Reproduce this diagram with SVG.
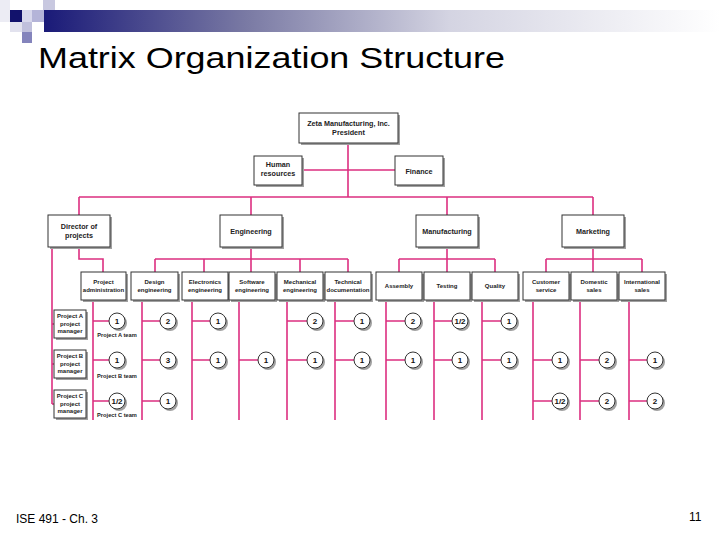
<svg xmlns="http://www.w3.org/2000/svg" width="720" height="540" viewBox="0 0 720 540">
<defs>
<linearGradient id="bar" x1="0" y1="0" x2="1" y2="0">
<stop offset="0" stop-color="#1a1a78"/>
<stop offset="0.3" stop-color="#7a7aa4"/>
<stop offset="0.6" stop-color="#d4d4e2"/>
<stop offset="1" stop-color="#ffffff"/>
</linearGradient>
</defs>
<style>
.ln{stroke:#dc2f80;stroke-width:1.6;fill:none}
.sh{fill:#a0a0a0}
.bx{fill:#fff;stroke:#333;stroke-width:1}
.t{font-family:"Liberation Sans",Arial,sans-serif;font-weight:bold;fill:#222;text-anchor:middle}
.t7{font-size:7.2px}
.t6{font-size:6px}
.t5{font-size:5.7px}
.num{font-family:"Liberation Sans",Arial,sans-serif;font-weight:bold;font-size:8px;fill:#111;text-anchor:middle}
.ttl{font-family:"Liberation Sans",Arial,sans-serif;fill:#000}
</style>
<rect x="0" y="0" width="720" height="540" fill="#fff"/>
<g id="header">
<rect x="0" y="0" width="10" height="10" fill="#ececf4"/>
<rect x="0" y="10" width="10" height="12" fill="#ececf4"/>
<rect x="10" y="10" width="12" height="12" fill="#12126c"/>
<rect x="22" y="10" width="10" height="12" fill="#d8d8ec"/>
<rect x="32" y="10" width="12" height="12" fill="#b4b4d8"/>
<rect x="43" y="0" width="12" height="10" fill="#c8c8e0"/>
<rect x="10" y="22" width="12" height="10" fill="#e2e2ee"/>
<rect x="22" y="22" width="10" height="10" fill="#c0c0dc"/>
<rect x="22" y="32" width="10" height="11" fill="#8484bc"/>
<rect x="44" y="10" width="676" height="22" fill="url(#bar)"/>
<text class="ttl" x="38" y="68" font-size="30" textLength="467" lengthAdjust="spacingAndGlyphs">Matrix Organization Structure</text>
</g>
<g id="connectors">
<path class="ln" d="M348 143V197M302 170H395M79 197H593M79 197V215M251 197V215M447 197V215M593 197V215"/>
<path class="ln" d="M79 247V259H103V272M52 247V404M52 324H54M52 364H54M52 404H54"/>
<path class="ln" d="M251 247V272M155 259H348M155 259V272M204 259V272M300 259V272M348 259V272"/>
<path class="ln" d="M447 247V272M399 259H495M399 259V272M495 259V272"/>
<path class="ln" d="M593 247V272M546 259H642M546 259V272M642 259V272"/>
<path class="ln" d="M93 300V420M142 300V420M192 300V420M239 300V420M287 300V420M335 300V420M386 300V420M434 300V420M482 300V420M533 300V420M580 300V420M629 300V420"/>
<path class="ln" d="M93 321H109M142 321H160M192 321H210M287 321H307M335 321H354M386 321H405M434 321H452M482 321H501"/>
<path class="ln" d="M93 360H109M142 360H160M192 360H210M239 360H258M287 360H307M335 360H354M386 360H405M434 360H452M482 360H501M533 360H552M580 360H599M629 360H647"/>
<path class="ln" d="M93 401H109M142 401H160M533 401H552M580 401H599M629 401H647"/>
</g>
<g id="president"><rect class="sh" x="301" y="115" width="99" height="30"/><rect class="bx" x="299" y="113" width="99" height="30"/><text class="t t7" x="348.5" y="126">Zeta Manufacturing, Inc.</text><text class="t t7" x="348.5" y="135">President</text></g>
<g id="hr"><rect class="sh" x="256" y="158" width="48" height="29"/><rect class="bx" x="254" y="156" width="48" height="29"/><text class="t t7" x="278" y="167">Human</text><text class="t t7" x="278" y="176">resources</text></g>
<g id="finance"><rect class="sh" x="397" y="158" width="48" height="29"/><rect class="bx" x="395" y="156" width="48" height="29"/><text class="t t7" x="419" y="173.5">Finance</text></g>
<g id="director"><rect class="sh" x="50" y="217" width="62" height="32"/><rect class="bx" x="48" y="215" width="62" height="32"/><text class="t t7" x="79" y="229">Director of</text><text class="t t7" x="79" y="238">projects</text></g>
<g id="engineering"><rect class="sh" x="222" y="217" width="62" height="32"/><rect class="bx" x="220" y="215" width="62" height="32"/><text class="t t7" x="251" y="233.5">Engineering</text></g>
<g id="manufacturing"><rect class="sh" x="418" y="217" width="62" height="32"/><rect class="bx" x="416" y="215" width="62" height="32"/><text class="t t7" x="447" y="233.5">Manufacturing</text></g>
<g id="marketing"><rect class="sh" x="564" y="217" width="62" height="32"/><rect class="bx" x="562" y="215" width="62" height="32"/><text class="t t7" x="593" y="233.5">Marketing</text></g>
<g id="proj-admin"><rect class="sh" x="83" y="274" width="45" height="28"/><rect class="bx" x="81" y="272" width="45" height="28"/><text class="t t6" x="103.5" y="284">Project</text><text class="t t6" x="103.5" y="291.5">administration</text></g>
<g id="design-eng"><rect class="sh" x="133" y="274" width="47" height="28"/><rect class="bx" x="131" y="272" width="47" height="28"/><text class="t t6" x="154.5" y="284">Design</text><text class="t t6" x="154.5" y="291.5">engineering</text></g>
<g id="electronics-eng"><rect class="sh" x="184" y="274" width="46" height="28"/><rect class="bx" x="182" y="272" width="46" height="28"/><text class="t t6" x="205" y="284">Electronics</text><text class="t t6" x="205" y="291.5">engineering</text></g>
<g id="software-eng"><rect class="sh" x="231" y="274" width="46" height="28"/><rect class="bx" x="229" y="272" width="46" height="28"/><text class="t t6" x="252" y="284">Software</text><text class="t t6" x="252" y="291.5">engineering</text></g>
<g id="mechanical-eng"><rect class="sh" x="279" y="274" width="46" height="28"/><rect class="bx" x="277" y="272" width="46" height="28"/><text class="t t6" x="300" y="284">Mechanical</text><text class="t t6" x="300" y="291.5">engineering</text></g>
<g id="technical-doc"><rect class="sh" x="327" y="274" width="46" height="28"/><rect class="bx" x="325" y="272" width="46" height="28"/><text class="t t6" x="348" y="284">Technical</text><text class="t t6" x="348" y="291.5">documentation</text></g>
<g id="assembly"><rect class="sh" x="378" y="274" width="46" height="28"/><rect class="bx" x="376" y="272" width="46" height="28"/><text class="t t6" x="399" y="288">Assembly</text></g>
<g id="testing"><rect class="sh" x="426" y="274" width="46" height="28"/><rect class="bx" x="424" y="272" width="46" height="28"/><text class="t t6" x="447" y="288">Testing</text></g>
<g id="quality"><rect class="sh" x="474" y="274" width="46" height="28"/><rect class="bx" x="472" y="272" width="46" height="28"/><text class="t t6" x="495" y="288">Quality</text></g>
<g id="customer-service"><rect class="sh" x="525" y="274" width="46" height="28"/><rect class="bx" x="523" y="272" width="46" height="28"/><text class="t t6" x="546" y="284">Customer</text><text class="t t6" x="546" y="291.5">service</text></g>
<g id="domestic-sales"><rect class="sh" x="573" y="274" width="46" height="28"/><rect class="bx" x="571" y="272" width="46" height="28"/><text class="t t6" x="594" y="284">Domestic</text><text class="t t6" x="594" y="291.5">sales</text></g>
<g id="international-sales"><rect class="sh" x="621" y="274" width="46" height="28"/><rect class="bx" x="619" y="272" width="46" height="28"/><text class="t t6" x="642" y="284">International</text><text class="t t6" x="642" y="291.5">sales</text></g>
<g id="pm-a"><rect class="sh" x="56" y="312" width="32" height="28"/><rect class="bx" x="54" y="310" width="32" height="28"/><text class="t t6" x="70" y="318">Project A</text><text class="t t6" x="70" y="325.5">project</text><text class="t t6" x="70" y="333">manager</text></g>
<g id="pm-b"><rect class="sh" x="56" y="352" width="32" height="28"/><rect class="bx" x="54" y="350" width="32" height="28"/><text class="t t6" x="70" y="358">Project B</text><text class="t t6" x="70" y="365.5">project</text><text class="t t6" x="70" y="373">manager</text></g>
<g id="pm-c"><rect class="sh" x="56" y="392" width="32" height="28"/><rect class="bx" x="54" y="390" width="32" height="28"/><text class="t t6" x="70" y="398">Project C</text><text class="t t6" x="70" y="405.5">project</text><text class="t t6" x="70" y="413">manager</text></g>
<g id="team-labels"><text class="t t5" x="117" y="337">Project A team</text><text class="t t5" x="117" y="378">Project B team</text><text class="t t5" x="117" y="417">Project C team</text></g>
<g id="row-a">
<circle class="sh" cx="119" cy="323" r="8"/><circle class="bx" cx="117" cy="321" r="8"/><text class="num" x="117" y="324">1</text>
<circle class="sh" cx="170" cy="323" r="8"/><circle class="bx" cx="168" cy="321" r="8"/><text class="num" x="168" y="324">2</text>
<circle class="sh" cx="220" cy="323" r="8"/><circle class="bx" cx="218" cy="321" r="8"/><text class="num" x="218" y="324">1</text>
<circle class="sh" cx="317" cy="323" r="8"/><circle class="bx" cx="315" cy="321" r="8"/><text class="num" x="315" y="324">2</text>
<circle class="sh" cx="364" cy="323" r="8"/><circle class="bx" cx="362" cy="321" r="8"/><text class="num" x="362" y="324">1</text>
<circle class="sh" cx="415" cy="323" r="8"/><circle class="bx" cx="413" cy="321" r="8"/><text class="num" x="413" y="324">2</text>
<circle class="sh" cx="462" cy="323" r="8"/><circle class="bx" cx="460" cy="321" r="8"/><text class="num" x="460" y="324" font-size="7">1/2</text>
<circle class="sh" cx="511" cy="323" r="8"/><circle class="bx" cx="509" cy="321" r="8"/><text class="num" x="509" y="324">1</text>
</g>
<g id="row-b">
<circle class="sh" cx="119" cy="362" r="8"/><circle class="bx" cx="117" cy="360" r="8"/><text class="num" x="117" y="363">1</text>
<circle class="sh" cx="170" cy="362" r="8"/><circle class="bx" cx="168" cy="360" r="8"/><text class="num" x="168" y="363">3</text>
<circle class="sh" cx="220" cy="362" r="8"/><circle class="bx" cx="218" cy="360" r="8"/><text class="num" x="218" y="363">1</text>
<circle class="sh" cx="268" cy="362" r="8"/><circle class="bx" cx="266" cy="360" r="8"/><text class="num" x="266" y="363">1</text>
<circle class="sh" cx="317" cy="362" r="8"/><circle class="bx" cx="315" cy="360" r="8"/><text class="num" x="315" y="363">1</text>
<circle class="sh" cx="364" cy="362" r="8"/><circle class="bx" cx="362" cy="360" r="8"/><text class="num" x="362" y="363">1</text>
<circle class="sh" cx="415" cy="362" r="8"/><circle class="bx" cx="413" cy="360" r="8"/><text class="num" x="413" y="363">1</text>
<circle class="sh" cx="462" cy="362" r="8"/><circle class="bx" cx="460" cy="360" r="8"/><text class="num" x="460" y="363">1</text>
<circle class="sh" cx="511" cy="362" r="8"/><circle class="bx" cx="509" cy="360" r="8"/><text class="num" x="509" y="363">1</text>
<circle class="sh" cx="562" cy="362" r="8"/><circle class="bx" cx="560" cy="360" r="8"/><text class="num" x="560" y="363">1</text>
<circle class="sh" cx="609" cy="362" r="8"/><circle class="bx" cx="607" cy="360" r="8"/><text class="num" x="607" y="363">2</text>
<circle class="sh" cx="657" cy="362" r="8"/><circle class="bx" cx="655" cy="360" r="8"/><text class="num" x="655" y="363">1</text>
</g>
<g id="row-c">
<circle class="sh" cx="119" cy="403" r="8"/><circle class="bx" cx="117" cy="401" r="8"/><text class="num" x="117" y="404" font-size="7">1/2</text>
<circle class="sh" cx="170" cy="403" r="8"/><circle class="bx" cx="168" cy="401" r="8"/><text class="num" x="168" y="404">1</text>
<circle class="sh" cx="562" cy="403" r="8"/><circle class="bx" cx="560" cy="401" r="8"/><text class="num" x="560" y="404" font-size="7">1/2</text>
<circle class="sh" cx="609" cy="403" r="8"/><circle class="bx" cx="607" cy="401" r="8"/><text class="num" x="607" y="404">2</text>
<circle class="sh" cx="657" cy="403" r="8"/><circle class="bx" cx="655" cy="401" r="8"/><text class="num" x="655" y="404">2</text>
</g>
<g id="footer">
<text class="ttl" x="16" y="523" font-size="12">ISE 491 - Ch. 3</text>
<text class="ttl" x="689" y="521" font-size="12">11</text>
</g>
</svg>
